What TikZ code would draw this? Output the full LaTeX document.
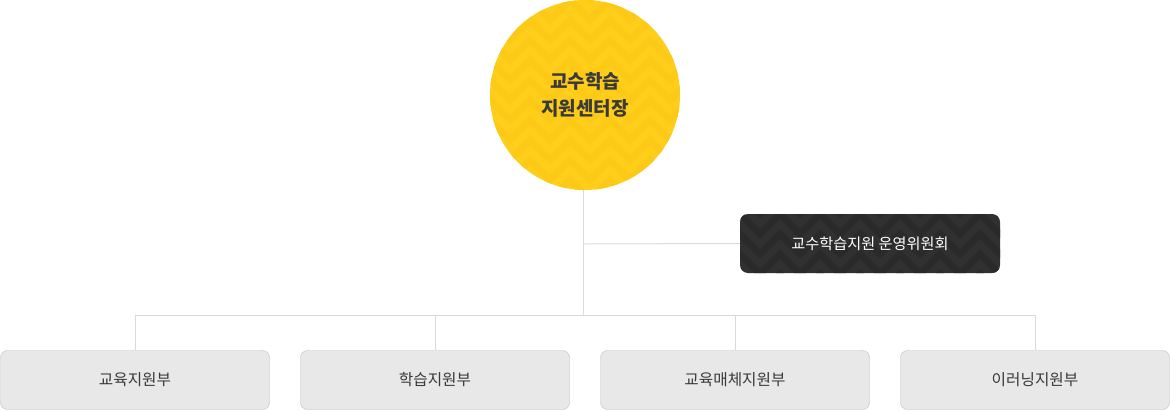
\documentclass[tikz,border=0pt]{standalone}
\usepackage{fontspec}
\newfontfamily\kr{Noto Sans CJK KR}
\definecolor{yel}{HTML}{FFCE1B}
\definecolor{yel2}{HTML}{FCC916}
\definecolor{dk}{HTML}{303030}
\definecolor{dk2}{HTML}{2A2A2A}
\definecolor{lnc}{HTML}{D9D9D9}
\definecolor{boxf}{HTML}{E8E8E8}
\definecolor{boxd}{HTML}{BDBDBD}
\definecolor{txt}{HTML}{3A3A3A}
\tikzset{
  unit/.style={draw=boxd, fill=boxf, rounded corners=7pt, minimum width=269pt, minimum height=59pt, inner sep=0pt, font=\kr\fontsize{15.7}{18}\selectfont, text=txt},
  conn/.style={draw=lnc, line width=1pt},
}
\begin{document}
\begin{tikzpicture}[x=1pt,y=-1pt]
\useasboundingbox (0,0) rectangle (1170,410);
% circle
\fill[yel] (585,95) circle (95);
\begin{scope}
\clip (585,95) circle (95);
\foreach \k in {-2,...,12} {
  \draw[yel2, line width=7pt, line join=miter]
    (470, \k*20+20) \foreach \i in {0,...,6} { -- (490+\i*40, \k*20) -- (510+\i*40, \k*20+20) };
}
\end{scope}
\node[font=\kr\bfseries\fontsize{19}{27}\selectfont, text=txt, align=center] (top) at (585,95) {교수학습\\지원센터장};
\coordinate (cb) at (583,190);
% committee box
\begin{scope}
\fill[dk, rounded corners=8pt] (740,214) rectangle (1000,273);
\clip[rounded corners=8pt] (740,214) rectangle (1000,273);
\foreach \k in {-1,...,4} {
  \draw[dk2, line width=7pt, line join=miter]
    (720, 214+\k*20+20) \foreach \i in {0,...,7} { -- (740+\i*40, 214+\k*20) -- (760+\i*40, 214+\k*20+20) };
}
\end{scope}
\node[minimum width=260pt, minimum height=59pt, inner sep=0pt, font=\kr\fontsize{15.2}{18}\selectfont, text=white] (com) at (870,243.5) {교수학습지원 운영위원회};
% units
\node[unit] (u1) at (135,380) {교육지원부};
\node[unit] (u2) at (435,380) {학습지원부};
\node[unit] (u3) at (735,380) {교육매체지원부};
\node[unit] (u4) at (1035,380) {이러닝지원부};
% connectors
\coordinate (j) at (583,315);
\coordinate (jc) at (583,244);
\draw[conn] (cb) -- (j);
\draw[conn] (jc) -- (com.west);
\draw[conn] (u1.north |- j) -- (u4.north |- j);
\foreach \u in {u1,u2,u3,u4} \draw[conn] (\u.north |- j) -- (\u.north);
\end{tikzpicture}
\end{document}
